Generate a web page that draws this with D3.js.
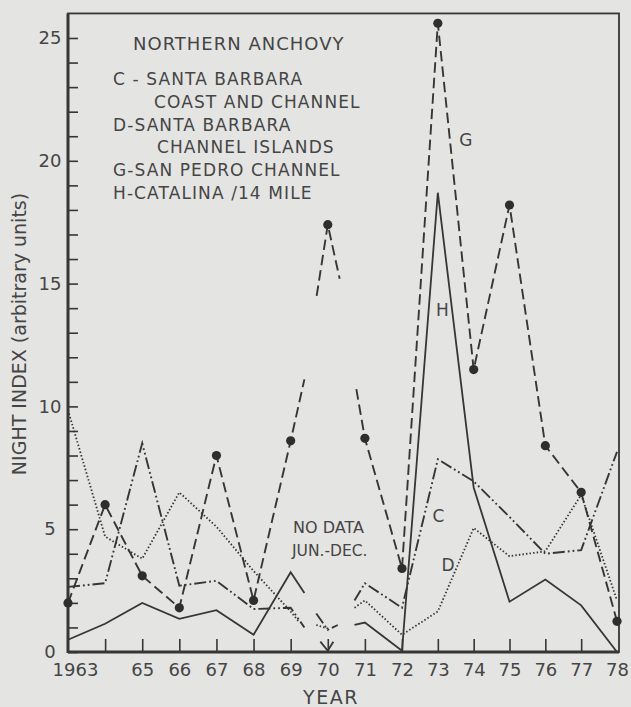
<!DOCTYPE html>
<html>
<head>
<meta charset="utf-8">
<script src="https://cdn.jsdelivr.net/npm/d3@7"></script>
<style>
  body { margin: 0; background: #e4e4e2; }
  text { font-family: "DejaVu Sans", sans-serif; fill: #454545; }
</style>
</head>
<body>
<div id="chart"></div>
<script>
// year labels along the bottom (1964 has a tick but no label)
const tickYears = d3.range(1964, 1978);
const labelYears = [1963, 1965, 1966, 1967, 1968, 1969, 1970, 1971, 1972, 1973, 1974, 1975, 1976, 1977, 1978];
const yMajor = [0, 5, 10, 15, 20, 25];

// [year, night index]; null = break in the line (no data Jun.-Dec. 1970)
const seriesG = [[1963, 2.0], [1964, 6.0], [1965, 3.1], [1966, 1.8], [1967, 8.0], [1968, 2.1], [1969, 8.6],
  [1969.37, 11.1], null, [1969.7, 14.5], [1970, 17.4], [1970.32, 15.2], null, [1970.77, 10.7],
  [1971, 8.7], [1972, 3.4], [1973, 25.6], [1974, 11.5], [1975, 18.2], [1976, 8.4], [1977, 6.5], [1978, 1.25]];
const seriesH = [[1963, 0.5], [1964, 1.15], [1965, 2.0], [1966, 1.35], [1967, 1.7], [1968, 0.7], [1969, 3.25],
  [1969.37, 2.4], null, [1969.8, 0.42], [1970, 0.05], [1970.15, 0.42], null, [1970.72, 1.1],
  [1971, 1.2], [1972, 0.05], [1973, 18.7], [1974, 6.7], [1975, 2.05], [1976, 2.95], [1977, 1.9], [1978, 0]];
const seriesC = [[1963, 2.65], [1964, 2.8], [1965, 8.5], [1966, 2.7], [1967, 2.9], [1968, 1.75], [1969, 1.8],
  [1969.37, 1.0], null, [1969.69, 1.57], [1970, 0.9], [1970.27, 1.1], null, [1970.72, 2.1],
  [1971, 2.8], [1972, 1.8], [1973, 7.85], [1974, 6.95], [1975, 5.5], [1976, 4.0], [1977, 4.15], [1978, 8.15]];
const seriesD = [[1963, 9.85], [1964, 4.7], [1965, 3.8], [1966, 6.5], [1967, 5.1], [1968, 3.3], [1969, 1.65],
  [1969.24, 1.2], null, [1969.69, 1.1], [1970.05, 0.93], null, [1970.72, 1.8],
  [1971, 2.1], [1972, 0.7], [1973, 1.65], [1974, 5.05], [1975, 3.9], [1976, 4.1], [1977, 6.4], [1978, 2.1]];

const legendLines = ["C - SANTA BARBARA", "COAST AND CHANNEL", "D-SANTA BARBARA", "CHANNEL ISLANDS",
  "G-SAN PEDRO CHANNEL", "H-CATALINA /14 MILE"];

const width = 631, height = 707;
const ink = "#363636";

const svg = d3.select("#chart").append("svg")
  .attr("width", width)
  .attr("height", height);

// hand drawn axis is a little stretched before 1972
const x = d3.scaleLinear().domain([1963, 1972, 1978]).range([68, 402, 617]);
const y = d3.scaleLinear().domain([0, 25]).range([652, 38]);

// frame
svg.append("rect")
  .attr("x", x(1963)).attr("y", y(26))
  .attr("width", x(1978) + 2 - x(1963)).attr("height", y(0) - y(26))
  .attr("fill", "none").attr("stroke", ink).attr("stroke-width", 1.8);

// y ticks, every unit, pointing inwards
let gy = svg.append("g").attr("transform", `translate(${x(1963)},0)`)
  .call(d3.axisLeft(y).tickValues(d3.range(0, 26)).tickSize(-10).tickFormat(""));
gy.select(".domain").remove();
gy.selectAll("line").attr("stroke", ink).attr("stroke-width", 1.6);

let gyl = svg.append("g").attr("transform", `translate(${x(1963)},0)`)
  .call(d3.axisLeft(y).tickValues(yMajor).tickSize(0));
gyl.select(".domain").remove();
gyl.selectAll("text").attr("x", -18).attr("text-anchor", "middle")
  .style("font-size", "18px").style("font-family", "DejaVu Sans").attr("fill", "#454545");

// x ticks
let gx = svg.append("g").attr("transform", `translate(0,${y(0)})`)
  .call(d3.axisBottom(x).tickValues(tickYears).tickSize(-13).tickFormat(""));
gx.select(".domain").remove();
gx.selectAll("line").attr("stroke", ink).attr("stroke-width", 1.6);

let gxl = svg.append("g").attr("transform", `translate(0,${y(0)})`)
  .call(d3.axisBottom(x).tickValues(labelYears).tickSize(0).tickPadding(11)
    .tickFormat(d => d === 1963 ? "1963" : String(d).slice(2)));
gxl.select(".domain").remove();
gxl.selectAll("text").style("font-size", "18px").style("font-family", "DejaVu Sans").attr("fill", "#454545")
  .attr("dx", d => d === 1963 ? 7 : 0);

// heavy axis lines
svg.append("line").attr("x1", x(1963)).attr("x2", x(1963)).attr("y1", y(0) + 1).attr("y2", y(26))
  .attr("stroke", ink).attr("stroke-width", 3);
svg.append("line").attr("x1", x(1963)).attr("x2", x(1978) + 2).attr("y1", y(0)).attr("y2", y(0))
  .attr("stroke", ink).attr("stroke-width", 3);

// axis titles
svg.append("text").attr("x", 331).attr("y", 704).attr("text-anchor", "middle")
  .style("font-size", "19px").style("letter-spacing", "1.5px").text("YEAR");
svg.append("text").attr("transform", "translate(26,334) rotate(-90)").attr("text-anchor", "middle")
  .style("font-size", "19px").text("NIGHT INDEX (arbitrary units)");

// series
const line = d3.line().defined(d => d !== null).x(d => x(d[0])).y(d => y(d[1]));
const styles = [
  { data: seriesD, dash: "1.5,2.1", w: 1.8 },
  { data: seriesC, dash: "12,3,1.8,3,1.8,3", w: 1.9 },
  { data: seriesH, dash: null, w: 1.8 },
  { data: seriesG, dash: "10.5,5", w: 1.9 }
];
styles.forEach(s => {
  svg.append("path").datum(s.data)
    .attr("d", line)
    .attr("fill", "none")
    .attr("stroke", ink)
    .attr("stroke-width", s.w)
    .attr("stroke-dasharray", s.dash);
});
svg.selectAll(".dot").data(seriesG.filter(d => d && Number.isInteger(d[0])))
  .enter().append("circle")
  .attr("class", "dot")
  .attr("cx", d => x(d[0])).attr("cy", d => y(d[1]))
  .attr("r", 4.6).attr("fill", "#2e2e2e");

// legend block
svg.append("text").attr("x", 133).attr("y", 50)
  .style("font-size", "18px").style("letter-spacing", "1px").text("NORTHERN ANCHOVY");
const legendX = [113, 154, 113, 157, 113, 113];
svg.selectAll(".leg").data(legendLines).enter().append("text")
  .attr("class", "leg")
  .attr("x", (d, i) => legendX[i])
  .attr("y", (d, i) => 85 + i * 22.8)
  .style("font-size", "17px").style("letter-spacing", "1.1px")
  .text(d => d);

// notes on the plot
svg.append("text").attr("x", 293).attr("y", 533).style("font-size", "16px").text("NO DATA");
svg.append("text").attr("x", 292).attr("y", 556).style("font-size", "15.5px").text("JUN.-DEC.");
const tags = [["G", 1973.6, 20.6], ["H", 1972.95, 13.7], ["C", 1972.85, 5.3], ["D", 1973.1, 3.3]];
svg.selectAll(".tag").data(tags).enter().append("text")
  .attr("class", "tag")
  .attr("x", d => x(d[1])).attr("y", d => y(d[2]))
  .style("font-size", "17px")
  .text(d => d[0]);
</script>
</body>
</html>
